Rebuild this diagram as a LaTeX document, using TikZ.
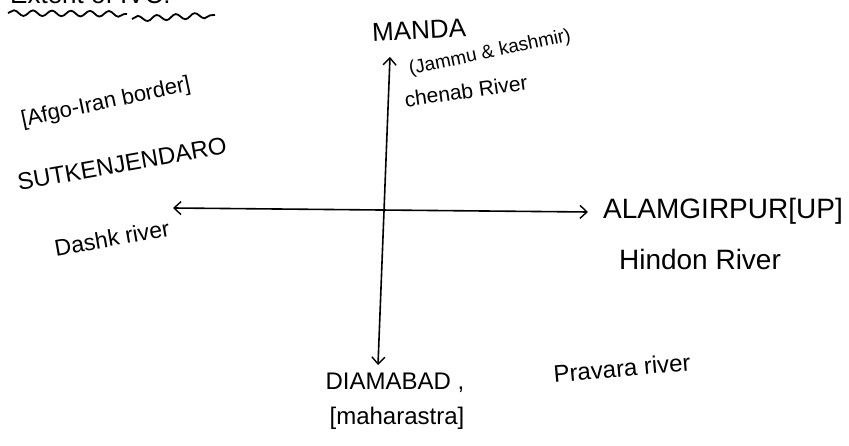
\documentclass[tikz,border=0pt]{standalone}
\usepackage{fontspec}
\setmainfont{Liberation Sans}
\usetikzlibrary{arrows.meta,decorations.pathmorphing}
\begin{document}
\begin{tikzpicture}[x=1pt,y=-1pt,
  lbl/.style={inner sep=0pt, anchor=center, text=black},
  fs/.style={font=\fontsize{#1}{#1}\selectfont},
  tip/.tip={Straight Barb[length=7pt,width=13pt,line width=1.4pt]},
  axis/.style={line width=1.6pt, black, tip-tip},
  wave/.style={line width=1.8pt, black, decorate, decoration={snake, amplitude=2.8pt, segment length=19pt}}]
\useasboundingbox (0,0) rectangle (849,446);
\begin{scope}
\clip (0,0) rectangle (849,446);
\node[lbl, fs=26, anchor=base west] (title) at (10,4) {Extent of IVC:};
\end{scope}
\coordinate (w1a) at (8,13);
\coordinate (w1b) at (127,14);
\coordinate (w2a) at (132,19);
\coordinate (w2b) at (215,15);
\draw[wave] (w1a) -- (w1b);
\draw[wave] (w2a) -- (w2b);
% axes
\coordinate (vt) at (390,57);
\coordinate (vb) at (378,365);
\coordinate (hl) at (173,208);
\coordinate (hr) at (588,212);
\draw[axis] (vb) -- (vt);
\draw[axis] (hl) -- (hr);
% labels
\node[lbl, fs=26, rotate=3] (manda) at (419,30) {MANDA};
\node[lbl, fs=19, rotate=12] (jk) at (490,53) {(Jammu \& kashmir)};
\node[lbl, fs=21, rotate=8] (chenab) at (466,91) {chenab River};
\node[lbl, fs=22, rotate=12] (afgo) at (106,103) {[Afgo-Iran border]};
\node[lbl, fs=24, rotate=10] (sutk) at (122,164) {SUTKENJENDARO};
\node[lbl, fs=23, rotate=10] (dashk) at (112,238) {Dashk river};
\node[lbl, fs=28] (alam) at (723,211) {ALAMGIRPUR[UP]};
\node[lbl, fs=28] (hindon) at (700,259) {Hindon River};
\node[lbl, fs=24] (dia) at (395,383) {DIAMABAD ,};
\node[lbl, fs=24, rotate=5] (pravara) at (622,368) {Pravara river};
\node[lbl, fs=24] (maha) at (397,418) {[maharastra]};
\end{tikzpicture}
\end{document}
